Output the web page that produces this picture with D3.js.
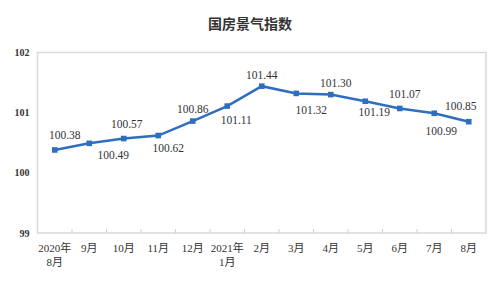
<!DOCTYPE html>
<html>
<head>
<meta charset="utf-8">
<script src="https://cdn.jsdelivr.net/npm/d3@7"></script>
<style>
  body { margin: 0; background: #fff; }
  svg { display: block; }
</style>
</head>
<body>
<svg class="chart" width="500" height="303"></svg>
<script>
// month labels, two lines each
var months = ["2020年\n8月", "9月", "10月", "11月", "12月", "2021年\n1月", "2月", "3月", "4月", "5月", "6月", "7月", "8月"];
var values = [100.38, 100.49, 100.57, 100.62, 100.86, 101.11, 101.44, 101.32, 101.30, 101.19, 101.07, 100.99, 100.85];
var yTicks = [99, 100, 101, 102];
// label nudges relative to each point (dx, dy)
var labelDx = [10, 24, 3, 10, 0, 9, 0, 15, 5, 9, 5, 7, -8];
var labelDy = [-15, 12, -15, 12, -12, 14, -11, 17, -12, 11, -14, 18, -16];

var svg = d3.select(".chart"),
    margin = {top: 52.5, right: 14, bottom: 70, left: 37.5},
    width = 500 - margin.left - margin.right,
    height = 303 - margin.top - margin.bottom;

var serif = "'Liberation Serif', 'Times New Roman', 'Noto Sans CJK SC', serif";

svg.append("text")
    .attr("x", 250)
    .attr("y", 29)
    .attr("text-anchor", "middle")
    .attr("font-family", "'Noto Sans CJK SC', sans-serif")
    .attr("font-weight", "bold")
    .attr("font-size", 14)
    .attr("fill", "#333")
    .text("国房景气指数");

var g = svg.append("g").attr("transform", "translate(" + margin.left + "," + margin.top + ")");

var x = d3.scaleBand().domain(months).range([0, width]);
var y = d3.scaleLinear().domain([99, 102]).range([height, 0]);

// frame
g.append("rect")
    .attr("width", width)
    .attr("height", height)
    .attr("fill", "none")
    .attr("stroke", "#d9d9d9")
    .attr("stroke-width", 1.5);

// x axis with inward ticks between bands
var xAxis = g.append("g")
    .attr("transform", "translate(0," + height + ")");
xAxis.selectAll("line.tick")
    .data(months.slice(1))
    .enter().append("line")
    .attr("x1", function(d) { return x(d); })
    .attr("x2", function(d) { return x(d); })
    .attr("y1", 0)
    .attr("y2", -4)
    .attr("stroke", "#cfcfcf")
    .attr("stroke-width", 1);

xAxis.selectAll("text")
    .data(months)
    .enter().append("text")
    .attr("x", function(d) { return x(d) + x.bandwidth() / 2; })
    .attr("y", 18.5)
    .attr("text-anchor", "middle")
    .attr("font-family", serif)
    .attr("font-size", 11)
    .attr("fill", "#333")
    .each(function(d) {
      var t = d3.select(this);
      d.split("\n").forEach(function(s, i) {
        t.append("tspan")
          .attr("x", x(d) + x.bandwidth() / 2)
          .attr("dy", i ? 14 : 0)
          .text(s);
      });
    });

// y axis labels
g.selectAll(".ylab")
    .data(yTicks)
    .enter().append("text")
    .attr("class", "ylab")
    .attr("x", -8)
    .attr("y", function(d) { return y(d) + 3.5; })
    .attr("text-anchor", "end")
    .attr("font-family", serif)
    .attr("font-weight", "bold")
    .attr("font-size", 10)
    .attr("fill", "#333")
    .text(function(d) { return d; });

var cx = function(d, i) { return x(months[i]) + x.bandwidth() / 2; };

var line = d3.line()
    .x(cx)
    .y(function(d) { return y(d); });

g.append("path")
    .datum(values)
    .attr("d", line)
    .attr("fill", "none")
    .attr("stroke", "#2e6ebf")
    .attr("stroke-width", 2.5);

g.selectAll(".pt")
    .data(values)
    .enter().append("rect")
    .attr("class", "pt")
    .attr("x", function(d, i) { return cx(d, i) - 2.8; })
    .attr("y", function(d) { return y(d) - 2.8; })
    .attr("width", 5.6)
    .attr("height", 5.6)
    .attr("fill", "#2e6ebf");

g.selectAll(".lab")
    .data(values)
    .enter().append("text")
    .attr("class", "lab")
    .attr("x", function(d, i) { return cx(d, i) + labelDx[i]; })
    .attr("y", function(d, i) { return y(d) + labelDy[i] + 4; })
    .attr("text-anchor", "middle")
    .attr("font-family", serif)
    .attr("font-size", 11.5)
    .attr("fill", "#333")
    .text(function(d) { return d.toFixed(2); });
</script>
</body>
</html>
